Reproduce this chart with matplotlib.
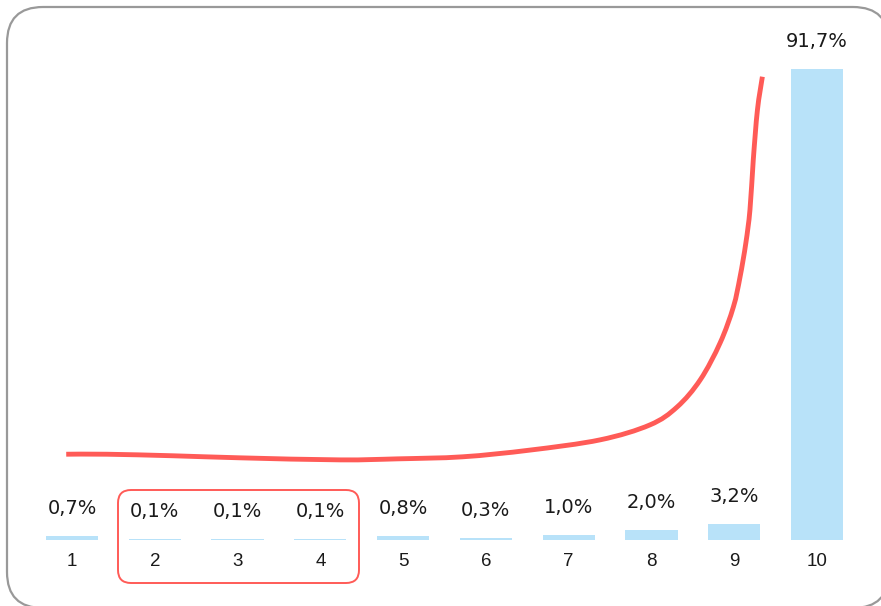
import matplotlib
matplotlib.use("Agg")
import numpy as np
import matplotlib.pyplot as plt
from matplotlib.patches import FancyBboxPatch, PathPatch
from matplotlib.path import Path

# deciles and their share of the total
deciles = [1, 2, 3, 4, 5, 6, 7, 8, 9, 10]
shares = [0.7, 0.1, 0.1, 0.1, 0.8, 0.3, 1.0, 2.0, 3.2, 91.7]

# hand-drawn trend line over the bars (decile, share)
trend_x = [0.93, 1.42, 2.22, 3.03, 4.24, 4.93, 5.72, 6.53, 7.38, 7.98,
           8.31, 8.59, 8.83, 8.99, 9.07, 9.14, 9.19, 9.23, 9.28, 9.34]
trend_y = [16.7, 16.7, 16.4, 16.0, 15.6, 15.8, 16.2, 17.5, 19.5, 22.4,
           25.9, 31.2, 38.4, 45.4, 51.2, 57.8, 64.3, 74.0, 83.7, 90.2]

bar_color = "#b8e2f9"
red = "#ff5b57"
text_color = "#1a1a1a"


def smooth_path(xs, ys):
    # Catmull-Rom through the points, written as cubic Bezier segments
    p = np.column_stack([xs, ys])
    p = np.vstack([p[0], p, p[-1]])
    verts = [p[1]]
    codes = [Path.MOVETO]
    for i in range(1, len(p) - 2):
        c1 = p[i] + (p[i + 1] - p[i - 1]) / 6
        c2 = p[i + 1] - (p[i + 2] - p[i]) / 6
        verts += [c1, c2, p[i + 1]]
        codes += [Path.CURVE4] * 3
    return Path(verts, codes)


fig = plt.figure(figsize=(8.81, 6.06), dpi=100)
ax = fig.add_axes([0, 66 / 606, 1, 540 / 606])

ax.bar(deciles, shares, width=0.63, color=bar_color)
ax.bar_label(ax.containers[0],
             labels=[f"{v:.1f}%".replace(".", ",") for v in shares],
             padding=13, fontsize=14, color=text_color,
             family="DejaVu Sans")

ax.add_patch(PathPatch(smooth_path(trend_x, trend_y), fill=False,
                       ec=red, lw=3.5, capstyle="butt", joinstyle="round"))

ax.set_xlim(0.130, 10.773)
ax.set_ylim(0, 105.14)
ax.set_xticks(deciles)
ax.set_xticklabels([str(d) for d in deciles], fontsize=13.5,
                   color=text_color, family="Liberation Sans")
ax.tick_params(axis="x", length=0, pad=9.5)
ax.set_yticks([])
for s in ax.spines.values():
    s.set_visible(False)
ax.patch.set_alpha(0)

# outer frame, running off the right and bottom edges; filled white so the
# stroke is not clipped onto the canvas border
frame = FancyBboxPatch((0.07, -0.02), 8.82, 6.01,
                       boxstyle="round,pad=0,rounding_size=0.36",
                       transform=fig.dpi_scale_trans, fc="white",
                       ec="#999999", lw=1.6, zorder=-1)
fig.patches.append(frame)

# highlight box around deciles 2-4
highlight = FancyBboxPatch((1.18, 0.23), 2.41, 0.93,
                           boxstyle="round,pad=0,rounding_size=0.13",
                           transform=fig.dpi_scale_trans, fill=False,
                           ec=red, lw=1.4, clip_on=False)
fig.patches.append(highlight)

fig.savefig("out.png", dpi=100)
